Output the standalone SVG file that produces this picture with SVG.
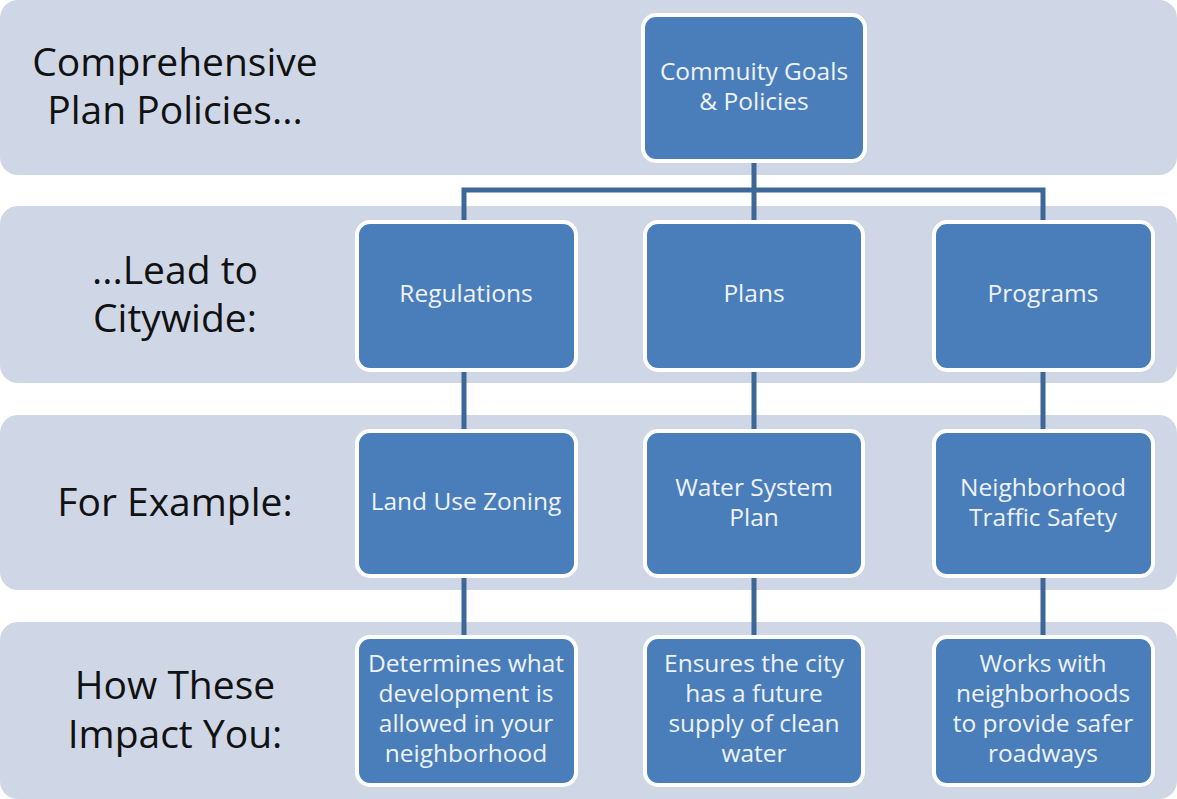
<svg xmlns="http://www.w3.org/2000/svg" width="1177" height="799" viewBox="0 0 1177 799">
<style>
.band{fill:#CFD7E7}
.node rect{fill:#4A7EBB;stroke:#FFFFFF;stroke-width:4}
.node text{fill:#EEF2F8;font-family:"Open Sans","Liberation Sans",sans-serif;font-size:24.5px;text-anchor:middle}
.lbl{fill:#111111;font-family:"Open Sans","Liberation Sans",sans-serif;font-size:39px;text-anchor:middle}
.conn{stroke:#3D6797;stroke-width:5;fill:none}
</style>
<rect width="1177" height="799" fill="#FFFFFF"/>
<g id="bands">
<rect class="band" x="0" y="0" width="1177" height="175" rx="18"/>
<rect class="band" x="0" y="206" width="1177" height="177" rx="18"/>
<rect class="band" x="0" y="415" width="1177" height="175" rx="18"/>
<rect class="band" x="0" y="622" width="1177" height="177" rx="18"/>
</g>
<g id="labels">
<text class="lbl" x="175" y="76">Comprehensive</text>
<text class="lbl" x="175" y="124">Plan Policies...</text>
<text class="lbl" x="175" y="284">...Lead to</text>
<text class="lbl" x="175" y="332">Citywide:</text>
<text class="lbl" x="175" y="516">For Example:</text>
<text class="lbl" x="175" y="699">How These</text>
<text class="lbl" x="175" y="748">Impact You:</text>
</g>
<g id="connectors">
<path class="conn" d="M754 161 V190 M464 220 V190 H1043 V220 M754 190 V220"/>
<path class="conn" d="M464 372 V429 M754 372 V429 M1043 372 V429"/>
<path class="conn" d="M464 578 V635 M754 578 V635 M1043 578 V635"/>
</g>
<g id="n-goals" class="node"><rect x="643" y="15" width="222" height="146" rx="13"/><text x="754" y="80">Commuity Goals</text><text x="754" y="110">&amp; Policies</text></g>
<g id="n-regulations" class="node"><rect x="357" y="222" width="219" height="148" rx="13"/><text x="466" y="302">Regulations</text></g>
<g id="n-plans" class="node"><rect x="645" y="222" width="218" height="148" rx="13"/><text x="754" y="302">Plans</text></g>
<g id="n-programs" class="node"><rect x="934" y="222" width="219" height="148" rx="13"/><text x="1043" y="302">Programs</text></g>
<g id="n-zoning" class="node"><rect x="357" y="431" width="219" height="145" rx="13"/><text x="466" y="510">Land Use Zoning</text></g>
<g id="n-water" class="node"><rect x="645" y="431" width="218" height="145" rx="13"/><text x="754" y="496">Water System</text><text x="754" y="526">Plan</text></g>
<g id="n-traffic" class="node"><rect x="934" y="431" width="219" height="145" rx="13"/><text x="1043" y="496">Neighborhood</text><text x="1043" y="526">Traffic Safety</text></g>
<g id="n-determines" class="node"><rect x="357" y="637" width="219" height="148" rx="13"/><text x="466" y="672">Determines what</text><text x="466" y="702">development is</text><text x="466" y="732">allowed in your</text><text x="466" y="762">neighborhood</text></g>
<g id="n-ensures" class="node"><rect x="645" y="637" width="218" height="148" rx="13"/><text x="754" y="672">Ensures the city</text><text x="754" y="702">has a future</text><text x="754" y="732">supply of clean</text><text x="754" y="762">water</text></g>
<g id="n-works" class="node"><rect x="934" y="637" width="219" height="148" rx="13"/><text x="1043" y="672">Works with</text><text x="1043" y="702">neighborhoods</text><text x="1043" y="732">to provide safer</text><text x="1043" y="762">roadways</text></g>
</svg>
